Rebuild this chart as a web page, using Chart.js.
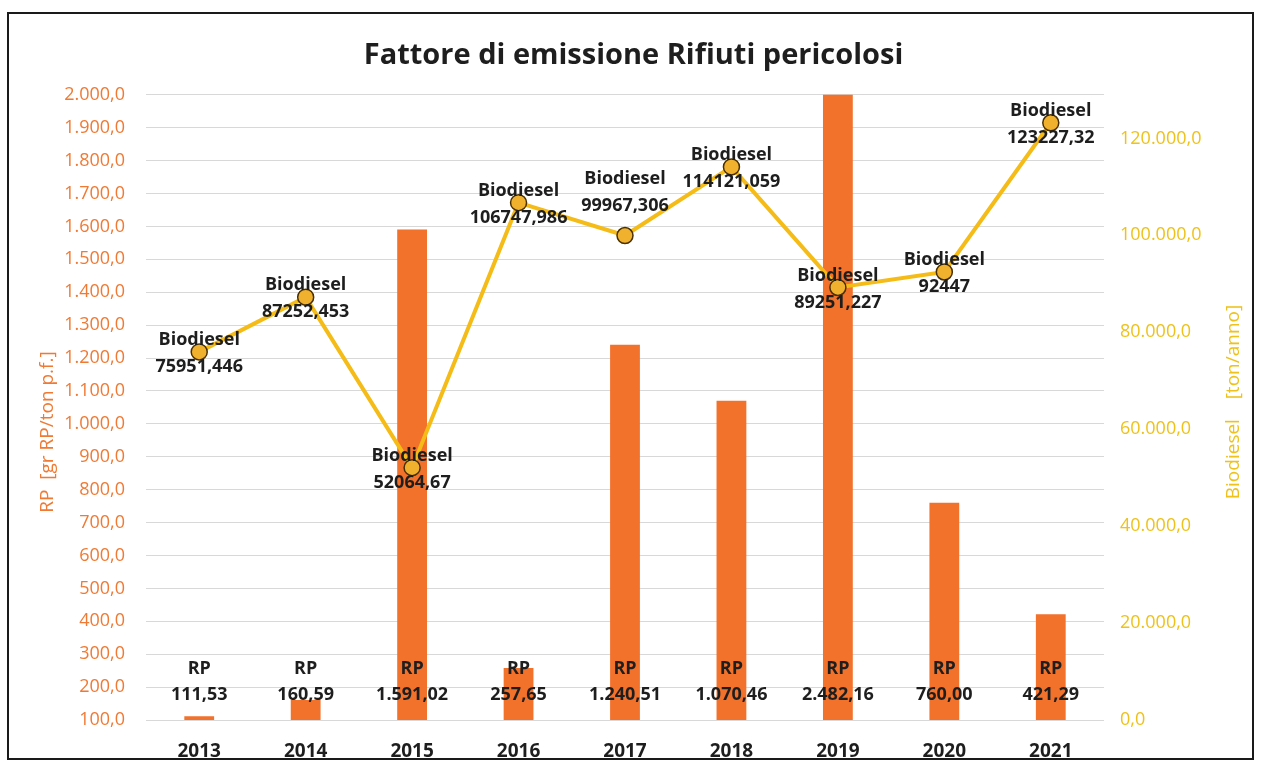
<!DOCTYPE html>
<html>
<head>
<meta charset="utf-8">
<script src="https://cdn.jsdelivr.net/npm/chart.js@4.4.0/dist/chart.umd.min.js"></script>
<style>
  html, body { margin: 0; padding: 0; background: #fff; }
  #wrap { position: relative; width: 1267px; height: 767px; }
  #frame { position: absolute; left: 7px; top: 12px; width: 1247px; height: 748px; border: 2px solid #1a1a1a; box-sizing: border-box; }
  canvas { position: absolute; left: 0; top: 0; }
</style>
</head>
<body>
<div id="wrap">
  <div id="frame"></div>
  <canvas id="chart" width="1267" height="767"></canvas>
</div>
<script>
/* ── Data ── */
const years      = ['2013', '2014', '2015', '2016', '2017', '2018', '2019', '2020', '2021'];
const rpValues   = [111.53, 160.59, 1591.02, 257.65, 1240.51, 1070.46, 2482.16, 760.00, 421.29];
const bioValues  = [75951.446, 87252.453, 52064.67, 106747.986, 99967.306, 114121.059, 89251.227, 92447, 123227.32];
const leftTicks  = [100, 2000, 100];      // min, max, step
const rightTicks = [0, 120000, 20000];    // first, last labelled, step

/* ── Colours / fonts ── */
const ORANGE    = '#f2712b';
const ORANGE_TX = '#f07a34';
const GOLD      = '#f5bb16';
const GOLD_TX   = '#eec21a';
const DARK      = '#1e1e1e';
const FONT      = '"Open Sans", Lato, sans-serif';

const itNum = (v, d) => v.toLocaleString('it-IT', { minimumFractionDigits: d, maximumFractionDigits: d });
const rawNum = v => String(v).replace('.', ',');

/* label anchor for each Biodiesel label: 'center' or 'top' */
const bioAnchor = ['center', 'center', 'center', 'center', 'top', 'center', 'center', 'center', 'center'];

/* ── Plugin: data labels + rotated axis titles ── */
const labelsPlugin = {
  id: 'labelsPlugin',
  afterDatasetsDraw(chart) {
    const ctx = chart.ctx;
    const area = chart.chartArea;
    ctx.save();
    ctx.textAlign = 'center';
    ctx.textBaseline = 'middle';
    ctx.fillStyle = DARK;
    ctx.font = 'bold 18px ' + FONT;

    // bar labels, anchored at the base
    const barMeta = chart.getDatasetMeta(0);
    barMeta.data.forEach((el, i) => {
      ctx.fillText('RP', el.x, area.bottom - 51);
      ctx.fillText(itNum(rpValues[i], 2), el.x, area.bottom - 25);
    });

    // line labels
    const lineMeta = chart.getDatasetMeta(1);
    lineMeta.data.forEach((el, i) => {
      const off = bioAnchor[i] === 'top' ? -45 : 0;
      ctx.fillText('Biodiesel', el.x, el.y - 12 + off);
      ctx.fillText(rawNum(bioValues[i]), el.x, el.y + 15 + off);
    });

    // axis titles
    ctx.font = '19px ' + FONT;
    ctx.fillStyle = ORANGE_TX;
    ctx.translate(48, 432);
    ctx.rotate(-Math.PI / 2);
    ctx.fillText('RP  [gr RP/ton p.f.]', 0, 0);
    ctx.setTransform(1, 0, 0, 1, 0, 0);
    ctx.fillStyle = GOLD_TX;
    ctx.translate(1234, 402);
    ctx.rotate(-Math.PI / 2);
    ctx.fillText('Biodiesel    [ton/anno]', 0, 0);
    ctx.restore();
  }
};

new Chart(document.getElementById('chart'), {
  type: 'bar',
  data: {
    labels: years,
    datasets: [
      {
        type: 'bar',
        label: 'RP',
        data: rpValues,
        backgroundColor: ORANGE,
        borderWidth: 0,
        barPercentage: 0.56,
        categoryPercentage: 0.5,
        yAxisID: 'y',
        order: 1,
      },
      {
        type: 'line',
        label: 'Biodiesel',
        data: bioValues,
        borderColor: GOLD,
        borderWidth: 4,
        tension: 0,
        pointRadius: 8,
        pointBackgroundColor: '#f0b22e',
        pointBorderColor: '#4a3000',
        pointBorderWidth: 1.5,
        yAxisID: 'y1',
        order: 0,
      },
    ],
  },
  options: {
    responsive: false,
    animation: false,
    layout: { padding: { left: 0, right: 0, top: 0, bottom: 0 } },
    plugins: {
      legend: { display: false },
      tooltip: { enabled: false },
      title: {
        display: true,
        text: 'Fattore di emissione Rifiuti pericolosi',
        color: DARK,
        font: { family: FONT, size: 29, weight: 'bold' },
        padding: { top: 38, bottom: 22 },
      },
    },
    scales: {
      x: {
        grid: { display: false, drawTicks: false },
        border: { display: false },
        ticks: { color: DARK, font: { family: FONT, size: 19, weight: 'bold' }, padding: 20 },
        afterFit: s => { s.height = 47; },
      },
      y: {
        position: 'left',
        min: leftTicks[0],
        max: leftTicks[1],
        grid: { color: '#d8d8d8', drawTicks: false },
        border: { display: false },
        ticks: {
          stepSize: leftTicks[2],
          color: ORANGE_TX,
          font: { family: FONT, size: 18 },
          padding: 21,
          callback: v => itNum(v, 1),
        },
        afterFit: s => { s.width = 146; },
      },
      y1: {
        position: 'right',
        min: 0,
        max: 129000,
        grid: { display: false, drawTicks: false },
        border: { display: false },
        afterBuildTicks: s => {
          s.ticks = [];
          for (let v = rightTicks[0]; v <= rightTicks[1]; v += rightTicks[2]) s.ticks.push({ value: v });
        },
        ticks: {
          color: GOLD_TX,
          font: { family: FONT, size: 18 },
          padding: 16,
          callback: v => itNum(v, 1),
        },
        afterFit: s => { s.width = 163; },
      },
    },
  },
  plugins: [labelsPlugin],
});
</script>
</body>
</html>
